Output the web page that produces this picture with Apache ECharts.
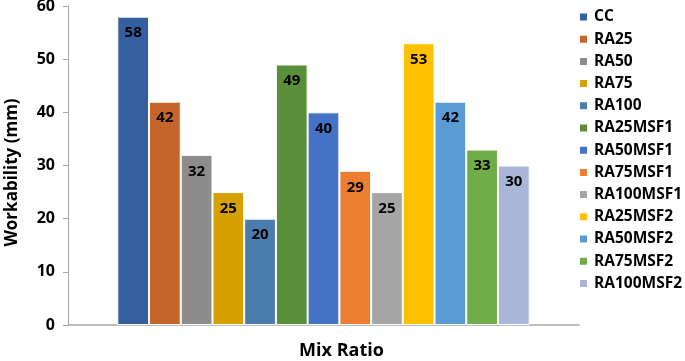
<!DOCTYPE html>
<html><head><meta charset="utf-8">
<script src="https://cdn.jsdelivr.net/npm/echarts@6/dist/echarts.min.js"></script>
<style>html,body{margin:0;padding:0;background:#fff}#c{width:685px;height:361px}</style>
</head><body><div id="c"></div>
<script>
const seriesNames = ["CC","RA25","RA50","RA75","RA100","RA25MSF1","RA50MSF1","RA75MSF1","RA100MSF1","RA25MSF2","RA50MSF2","RA75MSF2","RA100MSF2"];
const values = [58,42,32,25,20,49,40,29,25,53,42,33,30];
const colors = ["#355F9F","#C5652A","#8C8C8C","#D5A000","#4A7DAE","#5A8F3A","#4472C4","#ED7D31","#A5A5A5","#FFC000","#5B9BD5","#70AD47","#A9B6DA"];
const yTicks = [0,10,20,30,40,50,60];

const chart = echarts.init(document.getElementById('c'));
const font = "Open Sans";
chart.setOption({
  animation:false,
  textStyle:{fontFamily:font},
  grid:{left:68,right:106,top:6,bottom:36,containLabel:false,outerBoundsMode:'none'},
  legend:{
    orient:'vertical', left:573, top:4,
    itemWidth:9, itemHeight:9, itemGap:6.2, icon:'rect',
    textStyle:{fontSize:15.5,fontWeight:'bold',color:'#000',fontFamily:font,lineHeight:16,padding:[0,0,0,1]},
    data:seriesNames
  },
  xAxis:{
    type:'category', data:[''],
    axisLine:{lineStyle:{color:'#A6A6A6',width:1.5}},
    axisTick:{show:false}, axisLabel:{show:false},
    name:'Mix Ratio', nameLocation:'middle', nameGap:17,
    nameTextStyle:{fontSize:18,fontWeight:'bold',color:'#000',padding:[0,0,0,36]}
  },
  yAxis:{
    type:'value', min:yTicks[0], max:yTicks[yTicks.length-1], interval:10,
    axisLine:{show:true,lineStyle:{color:'#A6A6A6',width:1}},
    axisTick:{show:true,length:5,lineStyle:{color:'#A6A6A6'}},
    splitLine:{show:false},
    axisLabel:{fontSize:16,fontWeight:'bold',color:'#000',margin:13},
    name:'Workability (mm)', nameLocation:'middle', nameGap:47,
    nameTextStyle:{fontSize:17,fontWeight:'bold',color:'#000',padding:[0,0,0,-14]}
  },
  series: seriesNames.map((n,i)=>({
    name:n, type:'bar', data:[values[i]],
    barGap:'0%', barCategoryGap:'19.3%',
    itemStyle:{color:colors[i],borderColor:'#fff',borderWidth:1},
    label:{show:true,position:'insideTop',distance:9,fontSize:15,fontWeight:'bold',color:'#000'}
  }))
});
</script></body></html>
